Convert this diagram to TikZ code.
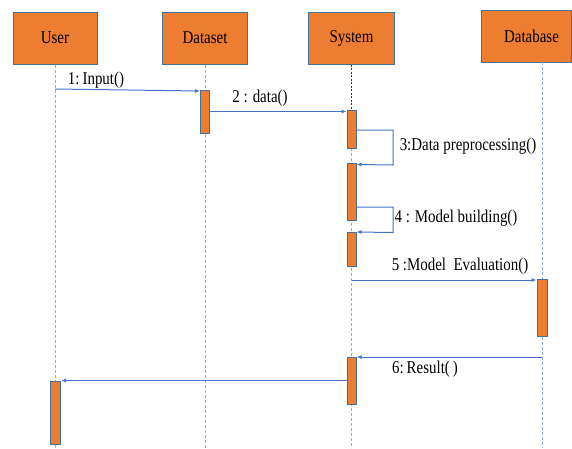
\documentclass[tikz,border=0pt]{standalone}
\usepackage{fontspec}
\setmainfont{Liberation Serif}[FakeStretch=0.83]
\usetikzlibrary{arrows.meta,calc}
\definecolor{boxfill}{HTML}{ED7D31}
\definecolor{boxline}{HTML}{41719C}
\definecolor{msgline}{HTML}{4472C4}
\definecolor{lifeline}{HTML}{8FAADC}
\tikzset{
  hdr/.style={draw=boxline, fill=boxfill, line width=1pt, minimum height=52pt, inner sep=0pt,
              font=\fontsize{18}{20}\selectfont},
  act/.style={draw=boxline, fill=boxfill, line width=1pt, minimum width=9pt, inner sep=0pt},
  life/.style={draw=lifeline, line width=0.9pt, dash pattern=on 3pt off 2pt},
  lifeblack/.style={draw=black!80, line width=0.9pt, dash pattern=on 2pt off 1.5pt},
  msg/.style={draw=msgline, line width=1pt, -{Latex[length=5pt,width=4pt]}},
  lbl/.style={font=\fontsize{18}{20}\selectfont, inner sep=0pt}
}
\begin{document}
\begin{tikzpicture}[x=1pt,y=-1pt]
\useasboundingbox (0,0) rectangle (572,448);
\fill[white] (0,0) rectangle (572,448);
% header boxes
\node[hdr, minimum width=84pt] (user) at (55,38) {User};
\node[hdr, minimum width=85pt] (dataset) at (205,38) {Dataset};
\node[hdr, minimum width=86pt] (system) at (351.5,38) {System};
\node[hdr, minimum width=90pt] (database) at (526.5,36) {\hspace*{10pt}Database};
% lifeline end points
\coordinate (userEnd) at (55,448);
\coordinate (dsEnd) at (205,448);
\coordinate (sysEnd) at (351.5,448);
\coordinate (dbEnd) at (542,448);
\coordinate (dbTop) at (542,62);
% activation positions (invisible, drawn after lifelines)
\coordinate (dsA0) at (205,111.5);
\coordinate (sys10) at (351.5,129);
\coordinate (sys20) at (351.5,191.5);
\coordinate (sys30) at (351.5,249);
\coordinate (dbA0) at (542,307.5);
\coordinate (sys40) at (351.5,380.5);
\coordinate (usrA0) at (55.5,412.5);
% lifelines
\path[life] (user.south) -- (userEnd);
\path[life] (dataset.south) -- (dsEnd);
\path[lifeblack] (system.south) -- (sys10 |- 0,110);
\path[life] (sys10 |- 0,148) -- (sysEnd);
\path[life] (dbTop) -- (dbEnd);
% activations
\node[act, minimum height=43pt] (dsA) at (dsA0) {};
\node[act, minimum height=38pt] (sys1) at (sys10) {};
\node[act, minimum height=57pt] (sys2) at (sys20) {};
\node[act, minimum height=34pt] (sys3) at (sys30) {};
\node[act, minimum width=10pt, minimum height=57pt] (dbA) at (dbA0) {};
\node[act, minimum height=47pt] (sys4) at (sys40) {};
\node[act, minimum width=10pt, minimum height=63pt] (usrA) at (usrA0) {};
% message coordinates
\coordinate (m1s) at (55,89);
\coordinate (m3a) at ($(sys1.east)+(0,1)$);
\coordinate (m3b) at (393,130);
\coordinate (m3c) at (393,165);
\coordinate (m3d) at ($(sys2.north east)+(0,2)$);
\coordinate (m4a) at ($(sys2.east)+(0,15.5)$);
\coordinate (m4b) at (393,207);
\coordinate (m4c) at (393,232.5);
\coordinate (m4d) at ($(sys3.north east)+(0,0.5)$);
\coordinate (m5s) at (351.5,280);
\coordinate (m6s) at (542,357);
% messages
\draw[msg] (m1s) -- ($(dsA.north west)+(0,1.5)$);
\draw[msg] (dsA.east) -- (dsA.east -| sys1.west);
\draw[msg] (m3a) -- (m3b) -- (m3c) -- (m3d);
\draw[msg] (m4a) -- (m4b) -- (m4c) -- (m4d);
\draw[msg] (m5s) -- (m5s -| dbA.west);
\draw[msg] (m6s) -- (m6s -| sys4.east);
\draw[msg] ($(sys4.north west)+(0,24)$) -- (usrA.north east);
% labels
\node[lbl] (l1) at (96,80) {1:\,Input()};
\node[lbl] (l2) at (260,98) {2 : data()};
\node[lbl] (l3) at (468,146) {3:Data preprocessing()};
\node[lbl] (l4) at (456,218) {4 : Model building()};
\node[lbl] (l5) at (460,266) {5 :Model\ \ Evaluation()};
\node[lbl] (l6) at (425,369) {6:\,Result(\,)};
\end{tikzpicture}
\end{document}
